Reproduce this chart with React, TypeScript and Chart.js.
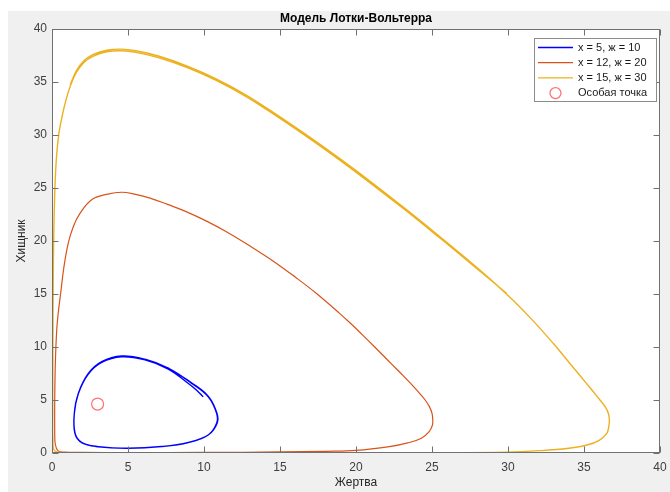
import React, { useEffect, useRef } from "react";
import { Chart, registerables } from "chart.js";

Chart.register(...registerables);

const TITLE = "Модель Лотки-Вольтерра";
const X_LABEL = "Жертва";
const Y_LABEL = "Хищник";
const TICKS = [0, 5, 10, 15, 20, 25, 30, 35, 40];
const SERIES_LABELS = ["х = 5, ж = 10", "х = 12, ж = 20", "х = 15, ж = 30", "Особая точка"];
const SERIES_COLORS = ["#0000ff", "#d95319", "#edb120", "rgba(255,40,40,0.65)"];

// Trajectory 1 (х = 5, ж = 10)
const blueX = [9.95, 9.5, 8.8, 7.65, 6.12, 4.58, 3.27, 2.39, 1.73, 1.47, 1.51, 1.95, 3.05, 5.02, 7.2, 8.97, 10.28, 10.83, 10.83, 10.28, 9.19, 7.65, 6.12, 4.58, 3.27, 2.39, 1.73, 1.47, 1.52, 1.97, 3.05, 5.02, 7.2, 8.97, 10.3, 10.86, 10.85, 10.3, 9.2, 7.6];
const blueY = [5.3, 5.95, 6.75, 7.92, 8.78, 9.08, 8.55, 7.45, 5.6, 3.75, 1.85, 0.98, 0.6, 0.44, 0.6, 0.98, 1.7, 2.8, 3.75, 5.3, 6.57, 8.0, 8.84, 9.15, 8.62, 7.5, 5.62, 3.76, 1.84, 0.97, 0.58, 0.45, 0.61, 1.0, 1.72, 2.8, 3.75, 5.32, 6.6, 8.05];

// Trajectory 2 (х = 12, ж = 20)
const redX = [20.0, 18.9, 17.4, 16.0, 14.56, 13.0, 11.5, 10.2, 8.86, 7.6, 6.45, 5.5, 4.58, 3.6, 2.61, 1.84, 1.4, 1.07, 0.79, 0.57, 0.41, 0.31, 0.22, 0.18, 0.18, 0.22, 0.4, 0.8, 2, 5, 10, 15, 18, 20, 22.2, 23.4, 24.3, 24.8, 25.02, 25.05, 25.0, 24.82, 24.55, 24.2, 23.7, 23.1, 22.3, 21.2, 20.0];
const redY = [11.75, 13.2, 15.05, 16.6, 18.1, 19.55, 20.85, 21.85, 22.75, 23.45, 24.05, 24.4, 24.6, 24.4, 23.9, 22.6, 21.35, 19.8, 17.6, 15.07, 13.2, 11.6, 8.5, 5.0, 2.0, 0.8, 0.2, 0.08, 0.05, 0.04, 0.05, 0.1, 0.16, 0.24, 0.6, 0.95, 1.4, 2.0, 2.6, 3.1, 3.75, 4.4, 5.0, 5.6, 6.4, 7.3, 8.45, 10.05, 11.75];

// Trajectory 3 (х = 15, ж = 30)
const yellowX = [29.9, 27.7, 25.5, 23.3, 21.1, 19.0, 17.0, 14.9, 12.8, 10.8, 8.9, 7.0, 5.5, 4.58, 3.6, 2.72, 2.1, 1.6, 1.2, 0.9, 0.64, 0.45, 0.3, 0.2, 0.12, 0.08, 0.06, 0.05, 0.06, 0.15, 0.6, 5, 15, 25, 29.9, 32.1, 34.0, 35.2, 36.0, 36.5, 36.62, 36.67, 36.6, 36.4, 36.05, 35.6, 35.2, 34.1, 33.0, 31.5, 29.9, 27.7, 25.5, 23.3, 21.1, 19.0, 17.0, 14.9, 12.8, 10.8, 8.9, 7.0, 5.5, 4.58, 3.6, 2.72, 2.1, 1.6, 1.2];
const yellowY = [15.07, 17.7, 20.3, 22.85, 25.3, 27.55, 29.6, 31.65, 33.6, 35.15, 36.35, 37.3, 37.8, 37.95, 37.85, 37.45, 36.85, 35.9, 34.6, 33.2, 31.6, 30.1, 28.0, 25.3, 21, 16, 10, 4, 1.2, 0.25, 0.04, 0.01, 0.01, 0.03, 0.08, 0.22, 0.45, 0.75, 1.2, 1.85, 2.4, 3.1, 3.75, 4.35, 5.0, 5.8, 6.5, 8.4, 10.3, 12.7, 15.0, 17.8, 20.42, 22.98, 25.45, 27.7, 29.75, 31.8, 33.75, 35.3, 36.5, 37.45, 37.95, 38.1, 38.0, 37.6, 37.0, 36.05, 34.75];

// Singular point
const pointX = [3.0];
const pointY = [4.62];

const zip = (xs: number[], ys: number[]) => xs.map((x, i) => ({ x, y: ys[i] }));

const FONT = '"Liberation Sans", Arial, Helvetica, sans-serif';

const framePlugin = {
  id: "matlabFrame",
  beforeDraw(chart: any) {
    const { ctx, chartArea: a } = chart;
    ctx.save();
    ctx.fillStyle = "#ffffff";
    ctx.fillRect(a.left, a.top, a.right - a.left, a.bottom - a.top);
    ctx.restore();
  },
  afterDraw(chart: any) {
    const { ctx, chartArea: a, scales } = chart;
    ctx.save();
    const L = Math.round(a.left) + 0.5;
    const R = Math.round(a.right) - 0.5;
    const T = Math.round(a.top) + 0.5;
    const B = Math.round(a.bottom) - 0.5;
    ctx.strokeStyle = "#707070";
    ctx.lineWidth = 1;
    ctx.strokeRect(L, T, R - L, B - T);
    ctx.beginPath();
    const tl = 6;
    for (const t of scales.x.ticks) {
      const px = Math.round(scales.x.getPixelForValue(t.value)) + 0.5;
      ctx.moveTo(px, B);
      ctx.lineTo(px, B - tl);
      ctx.moveTo(px, T);
      ctx.lineTo(px, T + tl);
    }
    for (const t of scales.y.ticks) {
      const py = Math.round(scales.y.getPixelForValue(t.value)) + 0.5;
      ctx.moveTo(L, py);
      ctx.lineTo(L + tl, py);
      ctx.moveTo(R, py);
      ctx.lineTo(R - tl, py);
    }
    ctx.stroke();

    const cx = (a.left + a.right) / 2;
    const cy = (a.top + a.bottom) / 2;
    ctx.fillStyle = "#000000";
    ctx.textAlign = "center";
    ctx.textBaseline = "middle";
    ctx.font = `bold 12px ${FONT}`;
    ctx.fillText(TITLE, cx, a.top - 10);
    ctx.fillStyle = "#262626";
    ctx.font = `12px ${FONT}`;
    ctx.fillText(X_LABEL, cx, a.bottom + 30);
    ctx.save();
    ctx.translate(a.left - 30, cy);
    ctx.rotate(-Math.PI / 2);
    ctx.fillText(Y_LABEL, 0, 0);
    ctx.restore();

    // legend
    const bx = a.right - 126;
    const by = a.top + 9;
    const bw = 122;
    const bh = 63;
    ctx.fillStyle = "#ffffff";
    ctx.fillRect(bx, by, bw, bh);
    ctx.strokeStyle = "#8c8c8c";
    ctx.lineWidth = 1;
    ctx.strokeRect(Math.round(bx) + 0.5, Math.round(by) + 0.5, bw, bh);
    ctx.font = `11px ${FONT}`;
    ctx.textAlign = "left";
    ctx.textBaseline = "middle";
    SERIES_LABELS.forEach((label, i) => {
      const ry = by + 9.5 + i * 15.2;
      ctx.strokeStyle = SERIES_COLORS[i];
      ctx.lineWidth = 1.3;
      ctx.beginPath();
      if (i < 3) {
        ctx.moveTo(bx + 4, ry);
        ctx.lineTo(bx + 39, ry);
      } else {
        ctx.arc(bx + 21.5, ry, 5.5, 0, Math.PI * 2);
      }
      ctx.stroke();
      ctx.fillStyle = "#1a1a1a";
      ctx.fillText(label, bx + 44, ry);
    });
    ctx.restore();
  },
};

export default function App() {
  const ref = useRef<HTMLCanvasElement | null>(null);
  useEffect(() => {
    if (!ref.current) return;
    const lineDs = (i: number, xs: number[], ys: number[], w: number) => ({
      label: SERIES_LABELS[i],
      data: zip(xs, ys),
      showLine: true,
      borderColor: SERIES_COLORS[i],
      backgroundColor: SERIES_COLORS[i],
      borderWidth: w,
      pointRadius: 0,
      pointHoverRadius: 0,
      tension: 0.4,
      fill: false,
      order: 3 - i,
    });
    const chart = new Chart(ref.current, {
      type: "scatter",
      data: {
        datasets: [
          lineDs(0, blueX, blueY, 1.4),
          lineDs(1, redX, redY, 1.2),
          lineDs(2, yellowX, yellowY, 1.4),
          {
            label: SERIES_LABELS[3],
            data: zip(pointX, pointY),
            showLine: false,
            borderColor: SERIES_COLORS[3],
            backgroundColor: "rgba(0,0,0,0)",
            borderWidth: 1.2,
            pointRadius: 6,
            pointStyle: "circle",
            order: -1,
          } as any,
        ],
      },
      options: {
        animation: false,
        responsive: true,
        maintainAspectRatio: false,
        events: [],
        layout: { padding: { left: 0, top: 18, right: 10, bottom: 0 } },
        plugins: {
          legend: { display: false },
          title: { display: false },
          tooltip: { enabled: false },
        },
        scales: {
          x: {
            type: "linear",
            min: TICKS[0],
            max: TICKS[TICKS.length - 1],
            afterBuildTicks: (s: any) => {
              s.ticks = TICKS.map((v) => ({ value: v }));
            },
            afterFit: (s: any) => {
              s.height = 39;
              s.paddingLeft = 0;
              s.paddingRight = 0;
            },
            grid: { display: false, drawTicks: false },
            border: { display: false },
            ticks: {
              padding: 7,
              color: "#404040",
              font: { family: FONT, size: 12 },
              maxRotation: 0,
            },
          },
          y: {
            type: "linear",
            min: TICKS[0],
            max: TICKS[TICKS.length - 1],
            afterBuildTicks: (s: any) => {
              s.ticks = TICKS.map((v) => ({ value: v }));
            },
            afterFit: (s: any) => {
              s.width = 44;
              s.paddingTop = 0;
              s.paddingBottom = 0;
            },
            grid: { display: false, drawTicks: false },
            border: { display: false },
            ticks: {
              padding: 5,
              color: "#404040",
              font: { family: FONT, size: 12 },
            },
          },
        },
      },
      plugins: [framePlugin],
    });
    return () => chart.destroy();
  }, []);

  return (
    <div
      style={{
        position: "absolute",
        left: 8,
        top: 11,
        width: 662,
        height: 481,
        background: "#f0f0f0",
      }}
    >
      <canvas ref={ref} />
    </div>
  );
}
